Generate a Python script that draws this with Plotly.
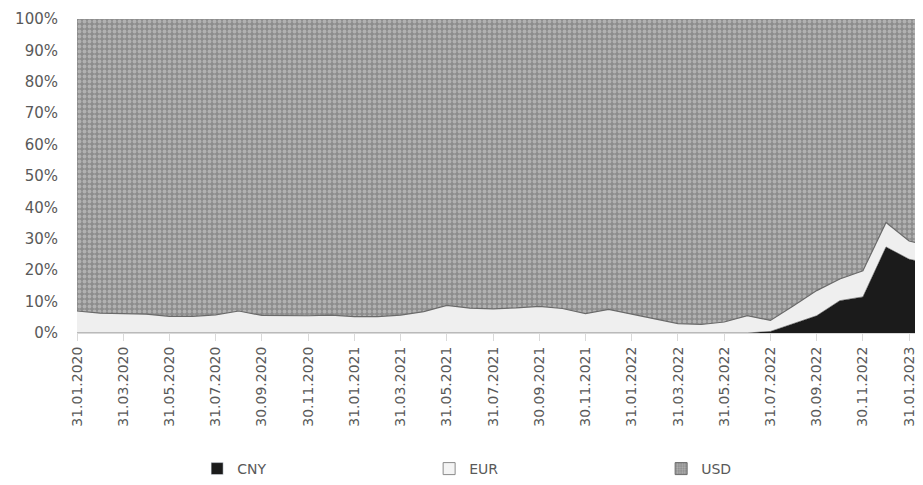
import plotly.graph_objects as go

# month-end dates, Jan 2020 - Feb 2023
dates = [
    "31.01.2020", "29.02.2020", "31.03.2020", "30.04.2020", "31.05.2020", "30.06.2020",
    "31.07.2020", "31.08.2020", "30.09.2020", "31.10.2020", "30.11.2020", "31.12.2020",
    "31.01.2021", "28.02.2021", "31.03.2021", "30.04.2021", "31.05.2021", "30.06.2021",
    "31.07.2021", "31.08.2021", "30.09.2021", "31.10.2021", "30.11.2021", "31.12.2021",
    "31.01.2022", "28.02.2022", "31.03.2022", "30.04.2022", "31.05.2022", "30.06.2022",
    "31.07.2022", "31.08.2022", "30.09.2022", "31.10.2022", "30.11.2022", "31.12.2022",
    "31.01.2023", "28.02.2023",
]

# shares, %
cny = [
    0, 0, 0, 0, 0, 0, 0, 0, 0, 0, 0, 0,
    0, 0, 0, 0, 0, 0, 0, 0, 0, 0, 0, 0,
    0, 0, 0, 0, 0, 0, 0.5, 3.0, 5.5, 10.3, 11.5, 27.4,
    23.5, 22.0,
]
eur = [
    7.0, 6.3, 6.2, 6.0, 5.3, 5.3, 5.8, 7.0, 5.6, 5.5, 5.5, 5.7,
    5.2, 5.2, 5.7, 6.8, 8.8, 7.9, 7.7, 8.0, 8.5, 7.8, 6.2, 7.5,
    6.0, 4.6, 3.0, 2.7, 3.5, 5.5, 3.5, 5.7, 8.0, 6.9, 8.3, 7.8,
    5.8, 5.5,
]
usd = [round(100 - c - e, 1) for c, e in zip(cny, eur)]

tick_labels = dates[::2]

grey = "#595959"
fnt = "DejaVu Sans"
usd_pattern = dict(shape=".", bgcolor="#8c8c8c", fgcolor="#d6d6d6", size=5, solidity=0.45)

fig = go.Figure()

fig.add_trace(go.Scatter(
    x=dates, y=cny, stackgroup="one", mode="lines",
    line=dict(color="#1b1b1b", width=0.5), fillcolor="#1b1b1b",
    showlegend=False, name="CNY"))
fig.add_trace(go.Scatter(
    x=dates, y=eur, stackgroup="one", mode="lines",
    line=dict(color="#6a6a6a", width=1.2), fillcolor="#efefef",
    showlegend=False, name="EUR"))
fig.add_trace(go.Scatter(
    x=dates, y=usd, stackgroup="one", mode="lines",
    line=dict(color="#8f8f8f", width=0),
    fillpattern=usd_pattern,
    showlegend=False, name="USD"))

# legend entries
fig.add_trace(go.Bar(x=[None], y=[None], name="CNY", marker=dict(color="#1b1b1b")))
fig.add_trace(go.Bar(x=[None], y=[None], name="EUR",
                     marker=dict(color="#f4f4f4", line=dict(color="#8a8a8a", width=1))))
fig.add_trace(go.Bar(x=[None], y=[None], name="USD",
                     marker=dict(color="#8c8c8c", line=dict(color="#6a6a6a", width=1),
                                 pattern=dict(shape=".", bgcolor="#8c8c8c", fgcolor="#d6d6d6",
                                              size=3, solidity=0.45))))

# page body adds an 8px offset, so size is reduced to keep the 923x485 frame
fig.update_layout(
    width=915, height=477,
    margin=dict(l=69, r=0, t=11, b=151),
    paper_bgcolor="white", plot_bgcolor="white",
    font=dict(family=fnt, size=14, color=grey),
    legend=dict(orientation="h", traceorder="normal",
                x=0.142, xanchor="left", y=-0.433, yanchor="middle",
                entrywidth=187, entrywidthmode="pixels",
                font=dict(family=fnt, size=14, color=grey)),
)

fig.update_xaxes(
    type="category", range=[0, 36.6],
    tickmode="array", tickvals=tick_labels, ticktext=tick_labels,
    tickangle=-90, ticks="outside", ticklen=7, tickcolor="#d9d9d9",
    showline=True, linecolor="#d9d9d9", linewidth=1,
    showgrid=False, zeroline=False,
    tickfont=dict(family=fnt, size=14, color=grey),
)
fig.update_yaxes(
    range=[0, 100], dtick=10, ticksuffix="%",
    showgrid=False, zeroline=False, showline=False,
    ticks="", ticklabelstandoff=18,
    tickfont=dict(family=fnt, size=15, color=grey),
)

fig.write_html("out.html")
